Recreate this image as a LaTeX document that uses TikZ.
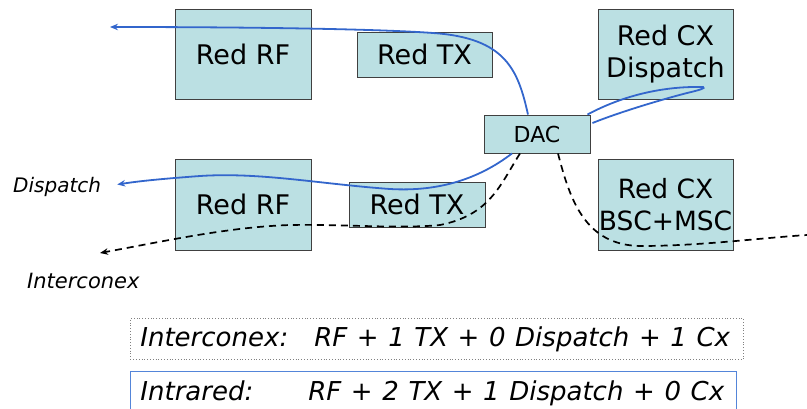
\documentclass[tikz,border=0pt]{standalone}
\usepackage{fontspec}
\setmainfont{DejaVu Sans}
\usetikzlibrary{arrows.meta,calc}
\definecolor{boxcyan}{rgb}{0.733,0.878,0.890}
\definecolor{lineblue}{rgb}{0.2,0.4,0.8}
\definecolor{frameblue}{rgb}{0.33,0.52,0.85}
\newcommand{\sumline}[2]{\makebox[#1][l]{\spaceskip=9.6pt\relax #2}}

\begin{document}
\begin{tikzpicture}[x=1pt,y=-1pt,
	netbox/.style={draw=black!75,fill=boxcyan,line width=0.9pt,inner sep=0pt,align=center,font=\fontsize{27}{32}\selectfont},
	blueflow/.style={draw=lineblue,line width=1.8pt},
	interflow/.style={draw=black,line width=1.7pt,dash pattern=on 7pt off 5pt},
	tipb/.style={-{Stealth[length=8pt,width=6.5pt]}},
	sidelabel/.style={font=\fontsize{20}{24}\selectfont\itshape,inner sep=0pt,anchor=base west},
	sumbox/.style={anchor=north west,inner ysep=0pt,inner xsep=10pt,font=\fontsize{26}{31}\selectfont\itshape}]
			\useasboundingbox (0,0) rectangle (807,408);
			\node[netbox,minimum width=136pt,minimum height=90pt] (rfA) at (243,54) {Red RF};
			\node[netbox,minimum width=135pt,minimum height=45pt] (txA) at (424.5,54.5) {Red TX};
			\node[netbox,minimum width=135pt,minimum height=90pt] (cxDisp) at (665.5,54) {Red CX\\Dispatch};
			\node[netbox,minimum width=106pt,minimum height=38pt,font=\fontsize{22}{26}\selectfont] (dac) at (537,134) {DAC};
			\node[netbox,minimum width=136pt,minimum height=91pt] (rfB) at (243,204.5) {Red RF};
			\node[netbox,minimum width=136pt,minimum height=45pt] (txB) at (417,204.5) {Red TX};
			\node[netbox,minimum width=135pt,minimum height=91pt,font=\fontsize{26.5}{32}\selectfont] (cxBsc) at (665.5,204.5) {Red CX\\BSC+MSC};
			\node[sidelabel] (lblDisp) at (13,192) {Dispatch};
			\node[sidelabel,font=\fontsize{21}{25}\selectfont\itshape] (lblInter) at (27,288) {Interconex};
			\coordinate (outTop) at (110,27);
			\coordinate (outDisp) at ($(lblDisp.east)+(16,-2)$);
			\coordinate (outInter) at (100,253);
			\coordinate (outEast) at (807,235);
			\draw[blueflow,tipb] ($(dac.north)+(-9,0)$) .. controls (518,70) and (506,38) .. (433,33) .. controls (380,29) and (250,27) .. (outTop);
			\draw[blueflow] ($(dac.north east)+(-3,0)$) .. controls (620,97) and (660,86) .. (703,87) .. controls (706,88) and (700,90) .. (687,93) .. controls (660,100) and (620,112) .. ($(dac.east)+(2,-11)$);
			\draw[blueflow,tipb] ($(dac.south)+(-25,0)$) .. controls (480,178) and (440,192) .. (390,189) .. controls (320,184) and (260,172) .. (200,176) .. controls (160,179) and (140,181) .. (outDisp);
			\draw[interflow,tipb] ($(dac.south)+(-17,0)$) .. controls (500,185) and (490,215) .. (440,225) .. controls (400,229) and (340,224) .. (290,225) .. controls (230,227) and (170,240) .. (outInter);
			\draw[interflow] ($(dac.south)+(21,0)$) .. controls (570,200) and (585,245) .. (640,246) .. controls (700,246) and (760,238) .. (outEast);
			\node[sumbox,draw=gray,dotted,line width=0.8pt,minimum height=41pt] (sumInter) at (130,318) {\sumline{593pt}{Interconex:\hspace{26pt}RF + 1 TX + 0 Dispatch + 1 Cx}};
			\node[sumbox,draw=frameblue,line width=0.9pt,minimum height=43pt] (sumIntra) at (130,371) {\sumline{586pt}{Intrared:\hspace{55pt}RF + 2 TX + 1 Dispatch + 0 Cx}};
	\end{tikzpicture}
\end{document}
